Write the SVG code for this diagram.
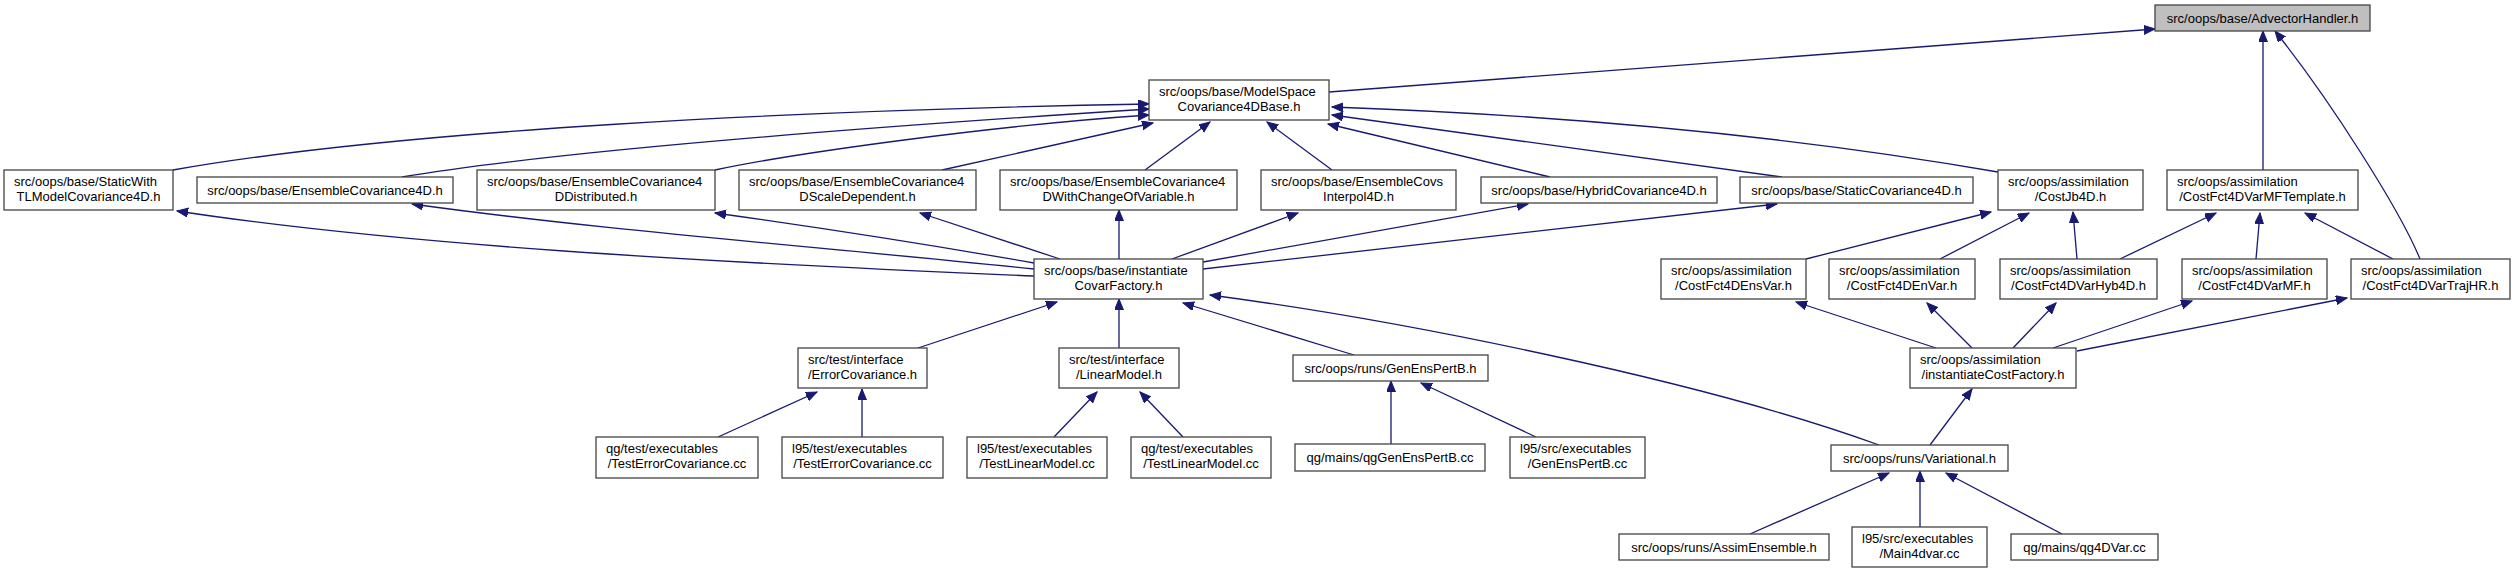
<svg xmlns="http://www.w3.org/2000/svg" width="2515" height="573" viewBox="0 0 2515 573">
<defs>
<style>
.n rect{fill:#fff;stroke:#444;stroke-width:1.3}
.n.g rect{fill:#bfbfbf}
.n text{font-family:"Liberation Sans",Arial,sans-serif;font-size:13px;fill:#000}
.c{text-anchor:middle}
#edges path{fill:none;stroke:#191970;stroke-width:1.3;marker-end:url(#a)}
</style>
<marker id="a" markerWidth="12" markerHeight="10" refX="11" refY="4.5" orient="auto" markerUnits="userSpaceOnUse"><path d="M0,0 L11,4.5 L0,9 z" fill="#191970" stroke="#191970" stroke-width="1"/></marker>
</defs>
<rect width="2515" height="573" fill="#fff"/>
<g id="edges">
<path d="M1329,92 L2155,29"/>
<path d="M2263,170 L2263,31"/>
<path d="M2420,259 C2400,210 2330,100 2275,31"/>
<path d="M173,170 C400,130 800,110 1149,104"/>
<path d="M402,177 C560,150 900,125 1149,109"/>
<path d="M715,170 C800,152 1000,125 1149,115"/>
<path d="M942,170 L1153,123"/>
<path d="M1145,170 L1210,122"/>
<path d="M1332,170 L1267,122"/>
<path d="M1550,177 L1328,124"/>
<path d="M1782,177 L1332,115"/>
<path d="M1998,172 Q1700,120 1332,107"/>
<path d="M1034,276 C700,262 400,245 177,211"/>
<path d="M1034,269 C800,245 600,230 412,204"/>
<path d="M1034,263 Q880,236 715,213"/>
<path d="M1060,259 L920,213"/>
<path d="M1119,259 L1119,210"/>
<path d="M1172,259 L1298,213"/>
<path d="M1203,262 L1528,204"/>
<path d="M1203,269 L1777,204"/>
<path d="M1806,259 L1991,212"/>
<path d="M1940,259 L2029,213"/>
<path d="M2077,259 L2073,212"/>
<path d="M2120,259 L2216,213"/>
<path d="M2256,259 L2260,213"/>
<path d="M2393,259 L2305,213"/>
<path d="M918,348 L1057,302"/>
<path d="M1119,348 L1119,299"/>
<path d="M1354,355 L1183,303"/>
<path d="M1879,445 C1700,380 1400,320 1210,295"/>
<path d="M1936,348 L1796,302"/>
<path d="M1972,348 L1927,303"/>
<path d="M2013,348 L2056,303"/>
<path d="M2053,348 L2192,301"/>
<path d="M2077,351 L2347,298"/>
<path d="M718,437 L817,392"/>
<path d="M862,437 L862,389"/>
<path d="M1054,437 L1097,392"/>
<path d="M1183,437 L1140,392"/>
<path d="M1391,444 L1391,381"/>
<path d="M1536,437 L1421,383"/>
<path d="M1930,445 L1972,389"/>
<path d="M1750,534 L1889,473"/>
<path d="M1920,527 L1920,471"/>
<path d="M2062,534 L1946,473"/>
</g>
<g id="advectorHandler" class="n g"><rect x="2155" y="5" width="215" height="26"/><text class="c" x="2262.5" y="22.5">src/oops/base/AdvectorHandler.h</text></g>
<g id="modelSpaceCov" class="n"><rect x="1149" y="80" width="180" height="40"/><text x="1159" y="96">src/oops/base/ModelSpace</text><text class="c" x="1239" y="111">Covariance4DBase.h</text></g>
<g id="staticWith" class="n"><rect x="4" y="170" width="169" height="40"/><text x="14" y="186">src/oops/base/StaticWith</text><text class="c" x="88.5" y="201">TLModelCovariance4D.h</text></g>
<g id="ensCov4D" class="n"><rect x="197" y="177" width="256" height="26"/><text class="c" x="325" y="194.5">src/oops/base/EnsembleCovariance4D.h</text></g>
<g id="ensDistributed" class="n"><rect x="477" y="170" width="238" height="40"/><text x="487" y="186">src/oops/base/EnsembleCovariance4</text><text class="c" x="596" y="201">DDistributed.h</text></g>
<g id="ensScaleDep" class="n"><rect x="739" y="170" width="237" height="40"/><text x="749" y="186">src/oops/base/EnsembleCovariance4</text><text class="c" x="857.5" y="201">DScaleDependent.h</text></g>
<g id="ensChangeVar" class="n"><rect x="1000" y="170" width="237" height="40"/><text x="1010" y="186">src/oops/base/EnsembleCovariance4</text><text class="c" x="1118.5" y="201">DWithChangeOfVariable.h</text></g>
<g id="ensCovsInterp" class="n"><rect x="1261" y="170" width="195" height="40"/><text x="1271" y="186">src/oops/base/EnsembleCovs</text><text class="c" x="1358.5" y="201">Interpol4D.h</text></g>
<g id="hybridCov" class="n"><rect x="1481" y="177" width="236" height="26"/><text class="c" x="1599" y="194.5">src/oops/base/HybridCovariance4D.h</text></g>
<g id="staticCov" class="n"><rect x="1740" y="177" width="233" height="26"/><text class="c" x="1856.5" y="194.5">src/oops/base/StaticCovariance4D.h</text></g>
<g id="costJb4D" class="n"><rect x="1998" y="170" width="145" height="40"/><text x="2008" y="186">src/oops/assimilation</text><text class="c" x="2070.5" y="201">/CostJb4D.h</text></g>
<g id="costMFTemplate" class="n"><rect x="2167" y="170" width="191" height="40"/><text x="2177" y="186">src/oops/assimilation</text><text class="c" x="2262.5" y="201">/CostFct4DVarMFTemplate.h</text></g>
<g id="covarFactory" class="n"><rect x="1034" y="259" width="169" height="40"/><text x="1044" y="275">src/oops/base/instantiate</text><text class="c" x="1118.5" y="290">CovarFactory.h</text></g>
<g id="costEnsVar" class="n"><rect x="1661" y="259" width="145" height="40"/><text x="1671" y="275">src/oops/assimilation</text><text class="c" x="1733.5" y="290">/CostFct4DEnsVar.h</text></g>
<g id="costEnVar" class="n"><rect x="1829" y="259" width="146" height="40"/><text x="1839" y="275">src/oops/assimilation</text><text class="c" x="1902" y="290">/CostFct4DEnVar.h</text></g>
<g id="costHyb4D" class="n"><rect x="2000" y="259" width="157" height="40"/><text x="2010" y="275">src/oops/assimilation</text><text class="c" x="2078.5" y="290">/CostFct4DVarHyb4D.h</text></g>
<g id="costVarMF" class="n"><rect x="2182" y="259" width="145" height="40"/><text x="2192" y="275">src/oops/assimilation</text><text class="c" x="2254.5" y="290">/CostFct4DVarMF.h</text></g>
<g id="costTrajHR" class="n"><rect x="2351" y="259" width="159" height="40"/><text x="2361" y="275">src/oops/assimilation</text><text class="c" x="2430.5" y="290">/CostFct4DVarTrajHR.h</text></g>
<g id="errorCov" class="n"><rect x="798" y="348" width="129" height="40"/><text x="808" y="364">src/test/interface</text><text class="c" x="862.5" y="379">/ErrorCovariance.h</text></g>
<g id="linearModel" class="n"><rect x="1059" y="348" width="120" height="40"/><text x="1069" y="364">src/test/interface</text><text class="c" x="1119" y="379">/LinearModel.h</text></g>
<g id="genEnsPertBh" class="n"><rect x="1293" y="355" width="195" height="26"/><text class="c" x="1390.5" y="372.5">src/oops/runs/GenEnsPertB.h</text></g>
<g id="costFactory" class="n"><rect x="1910" y="348" width="166" height="40"/><text x="1920" y="364">src/oops/assimilation</text><text class="c" x="1993" y="379">/instantiateCostFactory.h</text></g>
<g id="qgTestErrCov" class="n"><rect x="596" y="437" width="162" height="41"/><text x="606" y="453">qg/test/executables</text><text class="c" x="677" y="468">/TestErrorCovariance.cc</text></g>
<g id="l95TestErrCov" class="n"><rect x="782" y="437" width="161" height="41"/><text x="792" y="453">l95/test/executables</text><text class="c" x="862.5" y="468">/TestErrorCovariance.cc</text></g>
<g id="l95TestLinModel" class="n"><rect x="967" y="437" width="140" height="41"/><text x="977" y="453">l95/test/executables</text><text class="c" x="1037" y="468">/TestLinearModel.cc</text></g>
<g id="qgTestLinModel" class="n"><rect x="1131" y="437" width="140" height="41"/><text x="1141" y="453">qg/test/executables</text><text class="c" x="1201" y="468">/TestLinearModel.cc</text></g>
<g id="qgGenEnsPertB" class="n"><rect x="1295" y="444" width="190" height="27"/><text class="c" x="1390" y="462">qg/mains/qgGenEnsPertB.cc</text></g>
<g id="l95GenEnsPertB" class="n"><rect x="1510" y="437" width="135" height="41"/><text x="1520" y="453">l95/src/executables</text><text class="c" x="1577.5" y="468">/GenEnsPertB.cc</text></g>
<g id="variational" class="n"><rect x="1831" y="445" width="177" height="26"/><text class="c" x="1919.5" y="462.5">src/oops/runs/Variational.h</text></g>
<g id="assimEnsemble" class="n"><rect x="1619" y="534" width="210" height="26"/><text class="c" x="1724" y="551.5">src/oops/runs/AssimEnsemble.h</text></g>
<g id="main4dvar" class="n"><rect x="1852" y="527" width="135" height="40"/><text x="1862" y="543">l95/src/executables</text><text class="c" x="1919.5" y="558">/Main4dvar.cc</text></g>
<g id="qg4DVar" class="n"><rect x="2011" y="534" width="147" height="26"/><text class="c" x="2084.5" y="551.5">qg/mains/qg4DVar.cc</text></g>
</svg>
